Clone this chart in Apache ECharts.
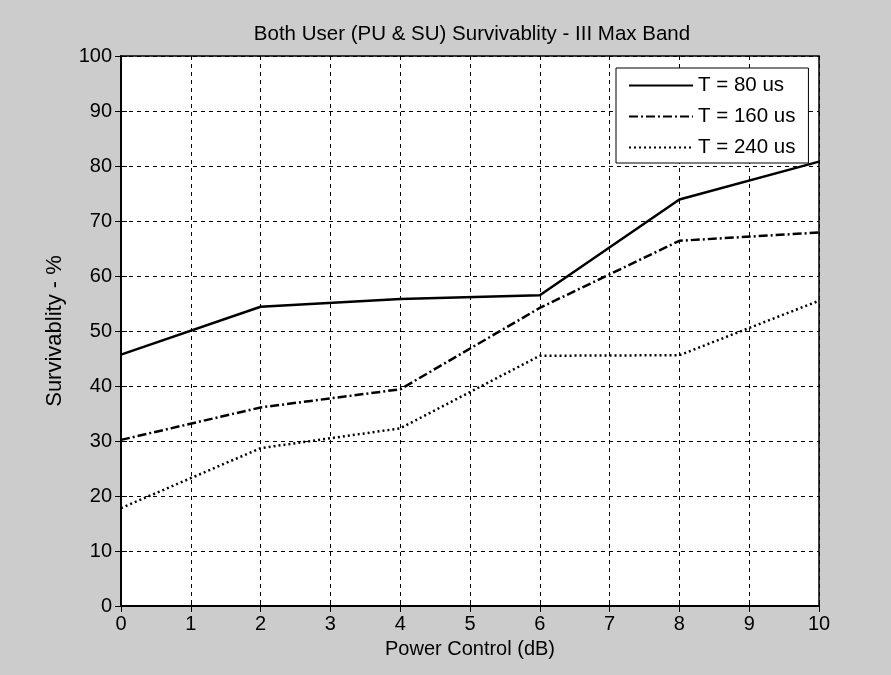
<!DOCTYPE html>
<html>
<head>
<meta charset="utf-8">
<title>Survivablity</title>
<script src="https://cdn.jsdelivr.net/npm/echarts@6/dist/echarts.min.js"></script>
<style>
  html, body { margin: 0; padding: 0; background: #cccccc; }
  #chart { width: 891px; height: 675px; }
</style>
</head>
<body>
<div id="chart"></div>
<script>
// power control (dB) values where the curves were sampled
const powerDb = [0, 2, 4, 6, 8, 10];
// survivability in %
const t80 = [45.7, 54.4, 55.8, 56.5, 73.9, 80.8];
const t160 = [30.2, 36.1, 39.4, 54.2, 66.4, 67.9];
const t240 = [17.8, 28.7, 32.3, 45.5, 45.6, 55.5];
const seriesNames = ['T = 80 us', 'T = 160 us', 'T = 240 us'];

const font = '"Liberation Sans", Arial, sans-serif';

function pairs(ys) {
  return powerDb.map((x, i) => [x, ys[i]]);
}

function lineSeries(name, ys, dash) {
  return {
    name: name,
    type: 'line',
    data: pairs(ys),
    symbol: 'none',
    color: '#000',
    lineStyle: { color: '#000', width: 2.5, type: dash },
    animation: false
  };
}

const chart = echarts.init(document.getElementById('chart'));

const option = {
  backgroundColor: '#cccccc',
  textStyle: { fontFamily: font, color: '#000' },
  title: {
    text: 'Both User (PU & SU) Survivablity - III Max Band',
    left: 467,
    textAlign: 'center',
    top: 19,
    textStyle: { fontFamily: font, fontSize: 20.5, fontWeight: 'normal', color: '#000' }
  },
  legend: {
    orient: 'vertical',
    left: 616,
    top: 68,
    padding: [7, 13, 5, 12],
    itemGap: 10,
    itemWidth: 64,
    itemHeight: 14,
    backgroundColor: '#fff',
    borderColor: '#000',
    borderWidth: 1,
    itemStyle: { opacity: 0 },
    textStyle: { fontFamily: font, fontSize: 20.5, color: '#000' },
    data: seriesNames
  },
  grid: {
    left: 121, right: 72, top: 56, bottom: 69,
    show: true,
    backgroundColor: '#fff',
    borderColor: '#000',
    borderWidth: 1.5
  },
  xAxis: [{
    type: 'value',
    min: 0, max: 10, interval: 1,
    name: 'Power Control (dB)',
    nameLocation: 'middle',
    nameGap: 33,
    nameTextStyle: { fontFamily: font, fontSize: 20, color: '#000' },
    axisLine: { lineStyle: { color: '#000', width: 1.5 } },
    axisTick: { inside: true, length: 6, lineStyle: { color: '#000' } },
    axisLabel: { fontFamily: font, fontSize: 20, color: '#000', margin: 8 },
    splitLine: { show: true, lineStyle: { color: '#000', width: 1, type: [4, 4] } }
  }, {
    type: 'value', position: 'top',
    min: 0, max: 10, interval: 1,
    axisLine: { lineStyle: { color: '#000', width: 1.5 } },
    axisTick: { inside: true, length: 6, lineStyle: { color: '#000' } },
    axisLabel: { show: false },
    splitLine: { show: false }
  }],
  yAxis: [{
    type: 'value',
    min: 0, max: 100, interval: 10,
    name: 'Survivablity - %',
    nameLocation: 'middle',
    nameGap: 55,
    nameTextStyle: { fontFamily: font, fontSize: 22, color: '#000' },
    axisLine: { show: true, lineStyle: { color: '#000', width: 1.5 } },
    axisTick: { show: true, inside: true, length: 6, lineStyle: { color: '#000' } },
    axisLabel: { fontFamily: font, fontSize: 20, color: '#000', margin: 9 },
    splitLine: { show: true, lineStyle: { color: '#000', width: 1, type: [4, 4] } }
  }, {
    type: 'value', position: 'right',
    min: 0, max: 100, interval: 10,
    axisLine: { show: true, lineStyle: { color: '#000', width: 1.5 } },
    axisTick: { show: true, inside: true, length: 6, lineStyle: { color: '#000' } },
    axisLabel: { show: false },
    splitLine: { show: false }
  }],
  series: [
    lineSeries(seriesNames[0], t80, 'solid'),
    lineSeries(seriesNames[1], t160, [9, 3, 2, 3]),
    lineSeries(seriesNames[2], t240, [2, 3])
  ]
};

chart.setOption(option);
</script>
</body>
</html>
